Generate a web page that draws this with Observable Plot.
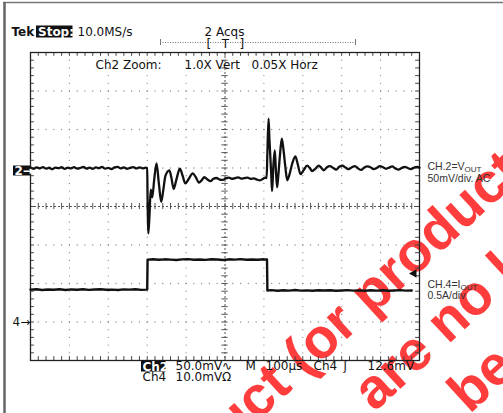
<!DOCTYPE html>
<html><head><meta charset="utf-8">
<script src="https://cdn.jsdelivr.net/npm/d3@7"></script>
<script src="https://cdn.jsdelivr.net/npm/@observablehq/plot@0.6"></script>
<style>body{margin:0;background:#fff}#chart svg{display:block}</style>
</head><body><div id="chart"></div>
<script>
// ---------- data (time in µs from left edge of screen) ----------
const ch2Time = [0,8,16,24,32,40,48,56,64,72,80,88,96,104,112,120,128,136,144,152,160,168,176,184,192,200,208,216,224,232,240,248,256,264,272,280,288,296,300,
  301,303,306,309,311,313,318,324,330,336,341,347,357,362,368,375,384,391,398,407,417,425,433,440,447,455,463,470,478,486,494,
  502,510,518,526,534,542,550,558,566,574,582,590,598,604,607,
  609,612,614,617,619,621,624,628,631,634,637,641,646,650,655,660,666,673,681,687,694,702,711,718,724,732,741,748,754,
  762,770,778,786,794,802,810,818,826,834,842,850,858,866,874,882,890,898,906,914,922,930,938,946,954,962,970,978,986,994,1000];
const ch2Millivolts = [0.5,-1,0.8,-0.5,1.2,-0.8,0.3,-1.5,0.6,-0.2,1,-1.2,0.4,-0.6,1.1,-0.9,0,1.3,-0.7,0.5,-1.1,0.9,-0.3,1.4,-0.8,0.2,-1.3,0.7,1.5,-0.4,0.8,-1,0.3,1.2,-0.6,0.9,-0.5,0.4,0,
  -40,-85,-60,-28,-32,-38,-15,6,-20,-44,-30,-10,-3,-12,-27,-15,-1,-10,-20,-14,-7,-12,-19,-16,-12,-15,-17,-14,-13,-15,-15.5,
  -13.5,-12.5,-14.2,-13,-12.2,-13.8,-13.2,-12.6,-14,-13.4,-15,-16,-14,-12.4,-13,
  20,64,40,10,-10,-30,0,23,-5,-25,-10,15,38,25,2,-16,-8,6,15,5,-8,-3,3,0,-4,-1,3,0,-3,
  1,2.5,0,-2,1.5,3,0.5,-1.5,1,2.5,-0.5,-2.5,0.5,2,1,-1.5,0,2.5,1,-1,0.5,2,-0.5,-2,0,1.5,0,-1.5,0.5,1.5,0.5];
const ch4Time = [0,15,30,45,60,75,90,105,120,135,150,165,180,195,210,225,240,255,270,285,300,
  301,315,330,345,360,375,390,405,420,435,450,465,480,495,510,525,540,555,570,585,600,608,
  609,620,635,650,665,680,695,710,725,740,755,770,785,800,815,830,845,860,875,890,905,920,935,950,965,980,1000];
const ch4Amps = [0.42,0.425,0.415,0.422,0.418,0.426,0.416,0.423,0.419,0.425,0.417,0.422,0.426,0.418,0.421,0.415,0.424,0.42,0.426,0.417,0.421,
  0.81,0.815,0.808,0.814,0.81,0.806,0.813,0.817,0.809,0.812,0.807,0.815,0.811,0.806,0.814,0.81,0.816,0.808,0.812,0.809,0.814,0.811,
  0.41,0.414,0.406,0.412,0.408,0.415,0.407,0.411,0.405,0.413,0.409,0.412,0.406,0.41,0.414,0.407,0.411,0.405,0.413,0.408,0.412,0.406,0.41,0.414,0.408,0.41];
const ch2MvPerDiv = 50, ch2GroundDiv = 1;
const ch4AmpsPerDiv = 0.5, ch4GroundDiv = -3;
const ch4TriggerMv = 12.6, ch4MvPerDiv = 10;

// ---------- screen layout helpers ----------
const W = 503, H = 413, L = 30, R = 419, T = 52, B = 360;
const px2x = px => (px - L) / (R - L) * 1000;
const py2y = py => 4 - (py - T) / (B - T) * 8;

const ch2 = ch2Time.map((t, i) => ({t, v: ch2Millivolts[i]}));
const ch4 = ch4Time.map((t, i) => ({t, v: ch4Amps[i]}));

const minorX = d3.range(0, 51).map(i => i * 20);
const minorY = d3.range(-20, 21).map(i => i / 5);
const vDots = [100,200,300,400,600,700,800,900].flatMap(x => minorY.filter(y => Math.abs(y) < 4).map(y => ({x, y})));
const hDots = [-3,-2,-1,1,2,3].flatMap(y => minorX.filter(x => x > 0 && x < 1000).map(x => ({x, y})));

const ctx = document.createElement("canvas").getContext("2d");
ctx.font = "10.5px 'Liberation Sans'";
const w2 = ctx.measureText("CH.2=V").width, w4 = ctx.measureText("CH.4=I").width;

const scopeTextStart = [
  {s:"10.0MS/s", x:77, y:35},
  {s:"[", x:206, y:47}, {s:"]", x:239, y:47},
  {s:"Ch2 Zoom:", x:95, y:68}, {s:"1.0X Vert", x:184, y:68}, {s:"0.05X Horz", x:251, y:68},
  {s:"50.0mV\u223F", x:175, y:369}, {s:"M", x:245, y:369}, {s:"100\u00B5s", x:265, y:369},
  {s:"Ch4", x:313, y:369}, {s:"\u0283", x:343, y:369}, {s:"12.6mV", x:367, y:369},
  {s:"Ch4", x:142, y:380}, {s:"10.0mV\u03A9", x:175, y:380}, {s:"4\u2192", x:12, y:325.5}
];
const scopeTextMiddle = [{s:"2 Acqs", x:224, y:35}, {s:"T", x:225, y:47}];
const invText = [{s:"Stop:", x:37.5, y:35}, {s:"Ch2", x:142, y:370}, {s:"2\u2192", x:14, y:174.5}];
const invBoxes = [{x1:36,y1:25.5,x2:72.5,y2:37.5},{x1:141,y1:360.5,x2:165.5,y2:371.5},{x1:13,y1:165.5,x2:30,y2:175.5}];
const sideText = [
  {s:"CH.2=V", x:427, y:169.5, f:10.5}, {s:"OUT", x:427 + w2, y:171.5, f:8},
  {s:"50mV/div. AC", x:427, y:181.5, f:10.5},
  {s:"CH.4=I", x:427, y:287, f:10.5}, {s:"OUT", x:427 + w4, y:289, f:8},
  {s:"0.5A/div", x:427, y:298.5, f:10.5}
];
const watermark = [
  {s:"product (or products)", x:140, y:529},
  {s:"are no longer", x:374, y:412},
  {s:"be", x:469, y:414}
];

const tx = d => px2x(d.x), ty = d => py2y(d.y);
const txt = {x: tx, y: ty, text: "s", lineAnchor: "bottom"};

const chart = Plot.plot({
  width: W, height: H,
  marginLeft: L, marginRight: W - R, marginTop: T, marginBottom: H - B,
  x: {domain: [0, 1000], axis: null},
  y: {domain: [-4, 4], axis: null},
  style: {background: "#fff", fontFamily: "DejaVu Sans"},
  marks: [
    Plot.text(watermark, {...txt, rotate: -42.7, textAnchor: "start",
      fontSize: 56, fontWeight: "bold", fontFamily: "Liberation Sans", fill: "#ff3d3d"}),
    // outer screenshot frame
    Plot.ruleY([py2y(2)], {x1: px2x(3), x2: px2x(503), stroke: "#777", strokeWidth: 1.5}),
    Plot.ruleX([px2x(4)], {y1: py2y(2), y2: py2y(413), stroke: "#666", strokeWidth: 2.5}),
    // graticule
    Plot.dot(vDots, {x: "x", y: "y", r: 0.65, fill: "#888", stroke: null}),
    Plot.dot(hDots, {x: "x", y: "y", r: 0.65, fill: "#888", stroke: null}),
    Plot.ruleY([0], {stroke: "#555", strokeDasharray: "2,2"}),
    Plot.ruleX([500], {stroke: "#555", strokeDasharray: "2,2"}),
    Plot.ruleX(minorX, {x: d => d, y1: -0.08, y2: 0.08, stroke: "#555"}),
    Plot.ruleY(minorY, {y: d => d, x1: 492, x2: 508, stroke: "#555"}),
    Plot.ruleX(minorX, {x: d => d, y1: 4, y2: 3.9, stroke: "#444"}),
    Plot.ruleX(minorX, {x: d => d, y1: -4, y2: -3.9, stroke: "#444"}),
    Plot.ruleY(minorY, {y: d => d, x1: 0, x2: 10, stroke: "#444"}),
    Plot.ruleY(minorY, {y: d => d, x1: 990, x2: 1000, stroke: "#444"}),
    Plot.frame({stroke: "#222", strokeWidth: 1.3}),
    // zoom window indicator
    Plot.ruleY([py2y(42)], {x1: px2x(160), x2: px2x(355), stroke: "#777", strokeDasharray: "1,1.5"}),
    Plot.ruleX([px2x(160), px2x(355)], {y1: py2y(39), y2: py2y(45), stroke: "#777"}),
    // traces
    Plot.line(ch4, {x: "t", y: d => d.v / ch4AmpsPerDiv + ch4GroundDiv, stroke: "#111", strokeWidth: 2.4, strokeLinejoin: "round"}),
    Plot.line(ch2, {x: "t", y: d => d.v / ch2MvPerDiv + ch2GroundDiv, curve: "monotone-x", stroke: "#111", strokeWidth: 2.3, strokeLinejoin: "round"}),
    // trigger level marker
    Plot.dot([ch4TriggerMv], {x: px2x(413.5), y: d => d / ch4MvPerDiv + ch4GroundDiv, symbol: "triangle", rotate: -90, r: 3.2, fill: "#111", stroke: null}),
    // texts
    Plot.rect(invBoxes, {x1: d => px2x(d.x1), x2: d => px2x(d.x2), y1: d => py2y(d.y1), y2: d => py2y(d.y2), fill: "#111"}),
    Plot.text(scopeTextStart, {...txt, textAnchor: "start", fontSize: 12, fill: "#111"}),
    Plot.text(scopeTextMiddle, {...txt, textAnchor: "middle", fontSize: 12, fill: "#111"}),
    Plot.text([{s:"Tek", x:11, y:35}], {...txt, textAnchor: "start", fontSize: 12, fontWeight: "bold", fill: "#111"}),
    Plot.text(invText, {...txt, textAnchor: "start", fontSize: 12, fontWeight: "bold", fill: "#fff"}),
    Plot.text(sideText, {...txt, textAnchor: "start", fontSize: d => d.f, fontFamily: "Liberation Sans", fill: "#333"})
  ]
});
document.getElementById("chart").append(chart);
</script></body></html>
